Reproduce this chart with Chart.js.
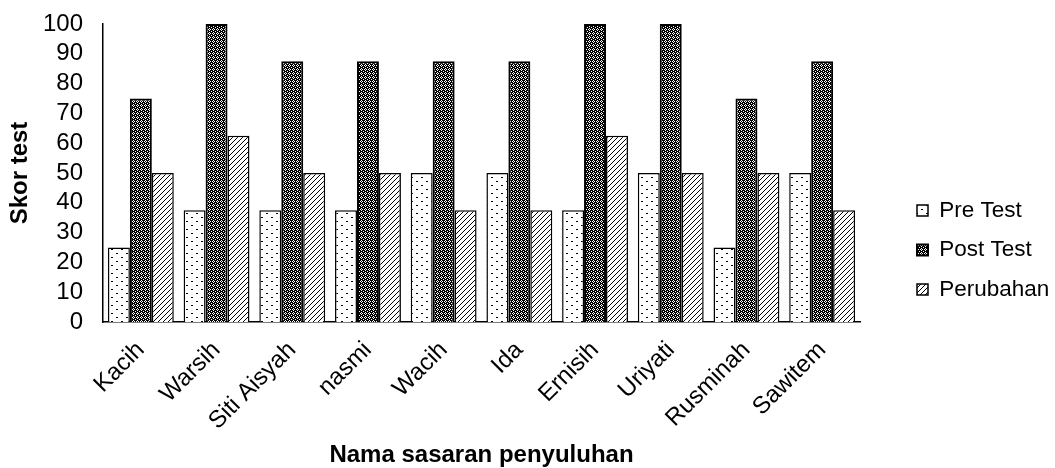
<!DOCTYPE html>
<html>
<head>
<meta charset="utf-8">
<script src="https://cdn.jsdelivr.net/npm/chart.js@4"></script>
<style>
  html, body { margin: 0; padding: 0; background: #fff; }
  #wrap { width: 1055px; height: 468px; }
</style>
</head>
<body>
<div id="wrap"><canvas id="c" width="1055" height="468"></canvas></div>
<script>
// Skor pre test / post test per sasaran penyuluhan
const categories = ['Kacih', 'Warsih', 'Siti Aisyah', 'nasmi', 'Wacih', 'Ida', 'Ernisih', 'Uriyati', 'Rusminah', 'Sawitem'];
const preTest   = [25, 37.5, 37.5, 37.5, 50, 50, 37.5, 50, 25, 50];
const postTest  = [75, 100, 87.5, 87.5, 87.5, 87.5, 100, 100, 75, 87.5];
const perubahan = [50, 62.5, 50, 50, 37.5, 37.5, 62.5, 50, 50, 37.5];
const yTicks = [0, 10, 20, 30, 40, 50, 60, 70, 80, 90, 100];

const FONT = 'Arial, "Liberation Sans", sans-serif';
const FS = 24;
const LEG_FS = 22.5;

// frame of the plotting area
const PLOT_LEFT = 103, PLOT_TOP = 24, PLOT_BOTTOM = 322, CANVAS_H = 468;

function makePattern(w, h, draw) {
  const cv = document.createElement('canvas');
  cv.width = w; cv.height = h;
  const g = cv.getContext('2d');
  draw(g);
  return g.createPattern(cv, 'repeat');
}

const ctx = document.getElementById('c').getContext('2d');

// sparse dots on white
const dotsPattern = makePattern(10, 8, g => {
  g.fillStyle = '#fff'; g.fillRect(0, 0, 10, 8);
  g.fillStyle = '#000';
  g.fillRect(1, 1, 2, 1);
  g.fillRect(6, 5, 2, 1);
});
// dark checker with light spots
const checkerPattern = makePattern(4, 4, g => {
  g.fillStyle = '#000'; g.fillRect(0, 0, 4, 4);
  g.fillStyle = '#fff';
  g.fillRect(1, 0, 1, 1);
  g.fillRect(0, 1, 1, 1);
  g.fillRect(2, 1, 1, 1);
  g.fillRect(1, 2, 1, 1);
  g.fillRect(3, 3, 1, 1);
});
// forward diagonal hatch
const hatchPattern = makePattern(5, 5, g => {
  g.fillStyle = '#fff'; g.fillRect(0, 0, 5, 5);
  g.fillStyle = '#000';
  for (let i = 0; i < 5; i++) g.fillRect(i, 4 - i, 1, 1);
});

const LEG_PAD = 17;

// Legend placement: fixed legend column width, item block moved right
const legendPlace = {
  id: 'legendPlace',
  beforeLayout(chart) {
    const lg = chart.legend;
    if (lg && !lg._patched) {
      const orig = lg.fit;
      lg.fit = function () { orig.call(this); this.width = 195; };
      lg._patched = true;
    }
  },
  afterLayout(chart) {
    const lg = chart.legend;
    if (lg) {
      const dx = 917 - LEG_PAD - lg.left;
      lg.left += dx; lg.right += dx;
      lg.top += 4; lg.bottom += 4;
    }
  }
};

new Chart(ctx, {
  type: 'bar',
  data: {
    labels: categories,
    datasets: [
      { label: 'Pre Test',  data: preTest,   backgroundColor: dotsPattern,    borderColor: '#000', borderWidth: 1.5 },
      { label: 'Post Test', data: postTest,  backgroundColor: checkerPattern, borderColor: '#000', borderWidth: 2 },
      { label: 'Perubahan', data: perubahan, backgroundColor: hatchPattern,   borderColor: '#000', borderWidth: 1.5 }
    ]
  },
  options: {
    responsive: false,
    animation: false,
    devicePixelRatio: 1,
    layout: { padding: { top: PLOT_TOP, left: 0, right: 0, bottom: 0 } },
    datasets: { bar: { categoryPercentage: 0.87, barPercentage: 1.0 } },
    plugins: {
      tooltip: { enabled: false },
      legend: {
        position: 'right',
        align: 'center',
        labels: {
          color: '#000',
          font: { family: FONT, size: LEG_FS },
          boxWidth: 11,
          boxHeight: 11,
          padding: LEG_PAD
        }
      }
    },
    scales: {
      x: {
        grid: { display: false, drawTicks: false },
        border: { color: '#000', width: 1.5 },
        ticks: {
          color: '#000',
          font: { family: FONT, size: FS },
          minRotation: 45, maxRotation: 45,
          autoSkip: false,
          padding: 14
        },
        title: {
          display: true,
          text: 'Nama sasaran penyuluhan',
          color: '#000',
          font: { family: FONT, size: FS, weight: 'bold' },
          padding: { top: 0, bottom: -2 }
        },
        afterFit(scale) {
          scale.height = CANVAS_H - PLOT_BOTTOM;
          scale.paddingLeft = 0;
          scale.paddingRight = 0;
        }
      },
      y: {
        min: 0, max: 100,
        afterBuildTicks(axis) { axis.ticks = yTicks.map(v => ({ value: v })); },
        grid: { display: false, drawTicks: false },
        border: { color: '#000', width: 1.5 },
        ticks: {
          color: '#000',
          font: { family: FONT, size: FS },
          autoSkip: false,
          padding: 20
        },
        title: {
          display: true,
          text: 'Skor test',
          color: '#000',
          font: { family: FONT, size: FS, weight: 'bold' },
          padding: { top: 6, bottom: 0 }
        },
        afterFit(scale) {
          scale.width = PLOT_LEFT;
          scale.paddingTop = 0;
          scale.paddingBottom = 0;
        }
      }
    }
  },
  plugins: [legendPlace]
});
</script>
</body>
</html>
